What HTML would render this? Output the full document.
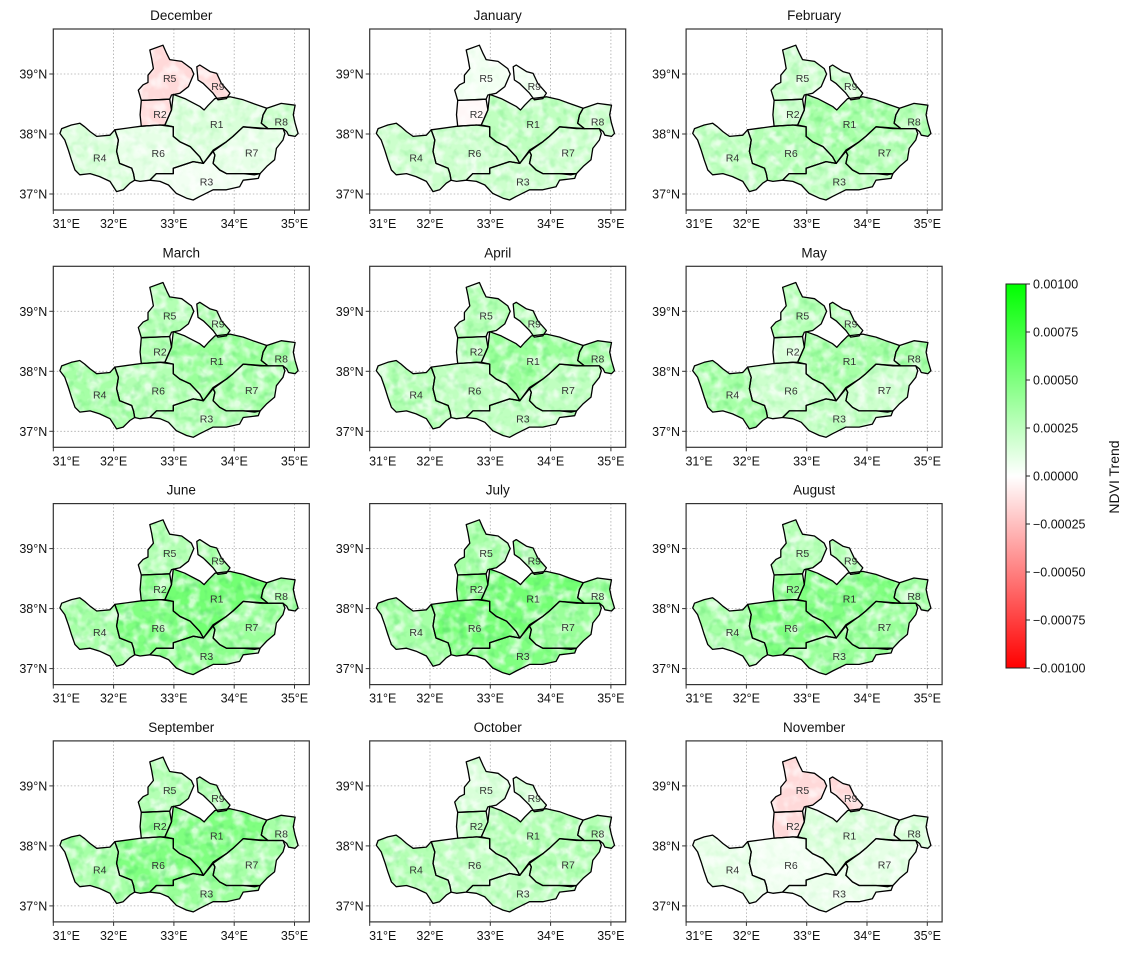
<!DOCTYPE html>
<html><head><meta charset="utf-8"><style>
body{margin:0;background:#fff;}
svg{display:block;font-family:"Liberation Sans","DejaVu Sans",sans-serif;}
</style></head><body>
<svg id="fig" width="1132" height="953" viewBox="0 0 1132 953">
<defs>
<linearGradient id="cbgrad" x1="0" y1="1" x2="0" y2="0">
<stop offset="0" stop-color="#ff0000"/><stop offset="0.5" stop-color="#ffffff"/><stop offset="1" stop-color="#00ff00"/>
</linearGradient>
<filter id="speck" x="0" y="0" width="1" height="1" filterUnits="objectBoundingBox">
<feTurbulence type="fractalNoise" baseFrequency="0.09" numOctaves="2" seed="3" result="n"/>
<feColorMatrix in="n" type="matrix" values="0 0 0 0 1  0 0 0 0 1  0 0 0 0 1  3.2 0 0 0 -1.35" result="m"/>
<feComposite in="m" in2="SourceAlpha" operator="in"/>
</filter>
<filter id="speck2" x="0" y="0" width="1" height="1" filterUnits="objectBoundingBox">
<feTurbulence type="fractalNoise" baseFrequency="0.12" numOctaves="2" seed="11" result="n"/>
<feColorMatrix in="n" type="matrix" values="0 0 0 0 0.1  0 0 0 0 0.75  0 0 0 0 0.15  3.5 0 0 0 -1.75" result="m"/>
<feComposite in="m" in2="SourceAlpha" operator="in"/>
</filter>
</defs>
</svg>
<script>
const months = ["December","January","February","March","April","May","June","July","August","September","October","November"];
const regionNames = ["R1","R2","R3","R4","R5","R6","R7","R8","R9"];
// mean NDVI trend per region (x1e-4), order R1..R9
const trendDec = [1.5,-1.5,0.5,1.5,-1.5,1,1,2,-1.5];
const trendJan = [2.5,-0.3,2,2,0.5,2,2,2,0.5];
const trendFeb = [3.5,2,2.5,2.5,2,3,3,3,2];
const trendMar = [4,3,3,3.5,3,3,3.5,3.5,3];
const trendApr = [4,3,2.5,3,3,2.5,2.5,3.5,3];
const trendMay = [3.5,1.5,2.5,3.5,3,2,2,3.5,3];
const trendJun = [5.5,4.5,4.5,3.5,3,5,4,3.5,3.5];
const trendJul = [5.5,5,5,3.5,3.5,5.5,4,4,3.5];
const trendAug = [5,4.5,4,3.5,3,5,4,3.5,3];
const trendSep = [5,4,4,3.5,3,5,3.5,3.5,3];
const trendOct = [3,2.5,2.5,3,1.5,2.5,3,3,1.5];
const trendNov = [1.5,-1.5,0.8,1,-1.5,0.5,1,1.5,-1.5];
const trends = [trendDec,trendJan,trendFeb,trendMar,trendApr,trendMay,trendJun,trendJul,trendAug,trendSep,trendOct,trendNov];
const lonTicks = [31,32,33,34,35];
const latTicks = [37,38,39];
const cbTicks = [0.001,0.00075,0.0005,0.00025,0,-0.00025,-0.0005,-0.00075,-0.001];
const cbLabels = ["0.00100","0.00075","0.00050","0.00025","0.00000","\u22120.00025","\u22120.00050","\u22120.00075","\u22120.00100"];
const shapeR1 = [[32.99,38.66],[33.18,38.59],[33.43,38.46],[33.50,38.40],[33.57,38.48],[33.68,38.59],[33.93,38.62],[34.15,38.57],[34.31,38.51],[34.54,38.43],[34.48,38.32],[34.45,38.18],[34.56,38.09],[34.43,38.09],[34.15,38.12],[33.98,37.96],[33.87,37.87],[33.65,37.73],[33.49,37.51],[33.43,37.62],[33.27,37.79],[33.10,37.87],[32.99,37.96],[32.99,38.12],[32.85,38.15],[32.96,38.40]];
const shapeR2 = [[32.46,38.56],[32.93,38.58],[32.96,38.40],[32.85,38.15],[32.77,38.15],[32.46,38.13],[32.44,38.32]];
const shapeR3 = [[32.60,37.23],[32.71,37.34],[32.99,37.34],[32.99,37.43],[33.32,37.54],[33.49,37.51],[33.65,37.71],[33.68,37.65],[33.65,37.51],[33.76,37.40],[33.87,37.34],[34.15,37.34],[34.43,37.34],[34.40,37.26],[34.15,37.23],[34.09,37.12],[33.87,37.07],[33.65,37.07],[33.43,36.96],[33.32,36.90],[33.21,36.93],[33.04,37.01],[32.91,37.15],[32.77,37.21]];
const shapeR4 = [[31.14,38.09],[31.30,38.15],[31.44,38.18],[31.52,38.12],[31.61,38.04],[31.72,37.96],[31.94,37.98],[32.02,38.07],[32.08,37.90],[32.05,37.71],[32.10,37.51],[32.30,37.43],[32.33,37.34],[32.35,37.23],[32.27,37.18],[32.16,37.07],[32.05,37.04],[31.94,37.21],[31.77,37.29],[31.61,37.34],[31.44,37.32],[31.36,37.40],[31.30,37.57],[31.25,37.73],[31.19,37.90],[31.11,38.01]];
const shapeR5 = [[32.60,39.40],[32.82,39.48],[32.88,39.34],[32.93,39.24],[33.13,39.21],[33.29,39.09],[33.33,39.00],[33.24,38.79],[33.10,38.68],[32.96,38.65],[32.93,38.58],[32.71,38.57],[32.46,38.56],[32.41,38.73],[32.49,38.82],[32.57,38.86],[32.57,38.98],[32.66,39.09],[32.63,39.26]];
const shapeR6 = [[32.02,38.07],[32.46,38.13],[32.77,38.15],[32.99,38.12],[32.99,37.96],[33.10,37.87],[33.27,37.79],[33.43,37.62],[33.49,37.51],[33.32,37.54],[32.99,37.43],[32.99,37.34],[32.71,37.34],[32.60,37.23],[32.44,37.21],[32.35,37.23],[32.33,37.34],[32.30,37.43],[32.10,37.51],[32.05,37.71],[32.08,37.90]];
const shapeR7 = [[34.15,38.12],[34.56,38.09],[34.81,38.09],[34.84,38.01],[34.81,37.90],[34.70,37.76],[34.67,37.57],[34.54,37.46],[34.43,37.34],[34.34,37.32],[34.15,37.34],[34.07,37.34],[33.87,37.34],[33.76,37.40],[33.65,37.51],[33.68,37.65],[33.65,37.71],[33.87,37.87],[33.98,37.96]];
const shapeR8 = [[34.54,38.43],[34.78,38.51],[35.01,38.48],[34.98,38.32],[35.01,38.18],[35.06,38.01],[35.01,37.96],[34.90,37.98],[34.87,38.04],[34.81,38.09],[34.56,38.09],[34.45,38.18],[34.48,38.32]];
const shapeR9 = [[33.38,39.12],[33.43,39.15],[33.60,39.04],[33.71,39.01],[33.79,38.84],[33.93,38.68],[33.87,38.59],[33.73,38.57],[33.65,38.68],[33.57,38.76],[33.49,38.84],[33.40,38.90]];
const shapes = [shapeR1,shapeR2,shapeR3,shapeR4,shapeR5,shapeR6,shapeR7,shapeR8,shapeR9];
const labelPos = [[33.71,38.17],[32.77,38.33],[33.54,37.21],[31.77,37.61],[32.93,38.93],[32.74,37.68],[34.29,37.69],[34.78,38.21],[33.73,38.80]];

const NS="http://www.w3.org/2000/svg";
const svg=document.getElementById('fig');
function mk(tag,attrs,parent){const e=document.createElementNS(NS,tag);for(const k in attrs)e.setAttribute(k,attrs[k]);(parent||svg).appendChild(e);return e;}
function color(v){
  let t=Math.max(-1,Math.min(1,v/0.001));
  if(t>=0){const c=Math.round(255*(1-t));return `rgb(${c},255,${c})`;}
  const c=Math.round(255*(1+t));return `rgb(255,${c},${c})`;
}
const PW=256,PH=181,LON0=31,LAT1=39.75,DX=60.3,DY=60;
months.forEach((m,i)=>{
  const col=i%3,row=Math.floor(i/3);
  const px=53.3+col*316.4, py=29+row*237.3;
  const xs=lon=>px+(lon-LON0)*DX, ys=lat=>py+(LAT1-lat)*DY;
  const g=mk('g',{});
  
  
  const t=mk('text',{x:px+PW/2,y:py-9,'text-anchor':'middle','font-size':13.5,fill:'#111'},g);
  t.textContent=m;
  
  
  lonTicks.forEach(lo=>{ if(lo>LON0){const l=mk('line',{x1:xs(lo),x2:xs(lo),y1:py,y2:py+PH,stroke:'#aaa','stroke-width':0.8,'stroke-dasharray':'1.5,2'},g);
    
    }});
  latTicks.forEach(la=>{const l=mk('line',{x1:px,x2:px+PW,y1:ys(la),y2:ys(la),stroke:'#aaa','stroke-width':0.8,'stroke-dasharray':'1.5,2'},g);
    
    });
  const vals=trends[i];
  shapes.forEach((s,k)=>{
    const pts=s.map(p=>xs(p[0]).toFixed(1)+','+ys(p[1]).toFixed(1)).join(' ');
    const pg=mk('polygon',{points:pts,fill:color(vals[k]*1e-4),stroke:'none'},g);
    
    
  });
  shapes.forEach((s,k)=>{
    const pts=s.map(p=>xs(p[0]).toFixed(1)+','+ys(p[1]).toFixed(1)).join(' ');
    const sp=mk('polygon',{points:pts,fill:'#fff',filter:'url(#speck)',opacity:0.65},g);
    
    
    if(vals[k]>0){
      const sp2=mk('polygon',{points:pts,fill:'#fff',filter:'url(#speck2)',opacity:Math.min(0.6,vals[k]*0.1)},g);
      
      
    }
  });
  shapes.forEach((s,k)=>{
    const pts=s.map(p=>xs(p[0]).toFixed(1)+','+ys(p[1]).toFixed(1)).join(' ');
    const ol=mk('polygon',{points:pts,fill:'none',stroke:'#000','stroke-width':1.3,'stroke-linejoin':'round'},g);
    
    
    const lb=mk('text',{x:xs(labelPos[k][0]),y:ys(labelPos[k][1])+4,'text-anchor':'middle','font-size':10.5,fill:'#333'},g);
    lb.textContent=regionNames[k];
    
    
  });
  const fr=mk('rect',{x:px,y:py,width:PW,height:PH,fill:'none',stroke:'#333','stroke-width':1.2},g);
  
  
  lonTicks.forEach((lo,j)=>{
    const x=xs(lo);
    const tk=mk('line',{x1:x,x2:x,y1:py+PH,y2:py+PH+4,stroke:'#333','stroke-width':1},g);
    
    
    const tl=mk('text',{x:j===0?x+13:x,y:py+PH+18,'text-anchor':'middle','font-size':12.5,fill:'#111'},g);
    tl.textContent=lo+'\u00b0E';
    
    
  });
  latTicks.forEach(la=>{
    const y=ys(la);
    const tk=mk('line',{x1:px-4,x2:px,y1:y,y2:y,stroke:'#333','stroke-width':1},g);
    
    
    const tl=mk('text',{x:px-6,y:y+4.5,'text-anchor':'end','font-size':12.5,fill:'#111'},g);
    tl.textContent=la+'\u00b0N';
    
    
  });
});
const cb=mk('g',{});


const CX=1006,CW=20,CT=284,CB=668;
const cy=v=>CB-(v+0.001)/0.002*(CB-CT);
const bar=mk('rect',{x:CX,y:CT,width:CW,height:CB-CT,fill:'url(#cbgrad)',stroke:'#222','stroke-width':1},cb);


cbTicks.forEach((v,j)=>{
  const y=cy(v);
  const tk=mk('line',{x1:CX+CW,x2:CX+CW+4,y1:y,y2:y,stroke:'#222','stroke-width':1},cb);
  
  
  const tl=mk('text',{x:CX+CW+7,y:y+4.5,'font-size':12.5,fill:'#111'},cb);
  tl.textContent=cbLabels[j];
  
  
});
const ct=mk('text',{x:0,y:0,transform:'translate(1119,477) rotate(-90)','text-anchor':'middle','font-size':14,fill:'#111'},cb);
ct.textContent='NDVI Trend';


</script>
</body></html>
